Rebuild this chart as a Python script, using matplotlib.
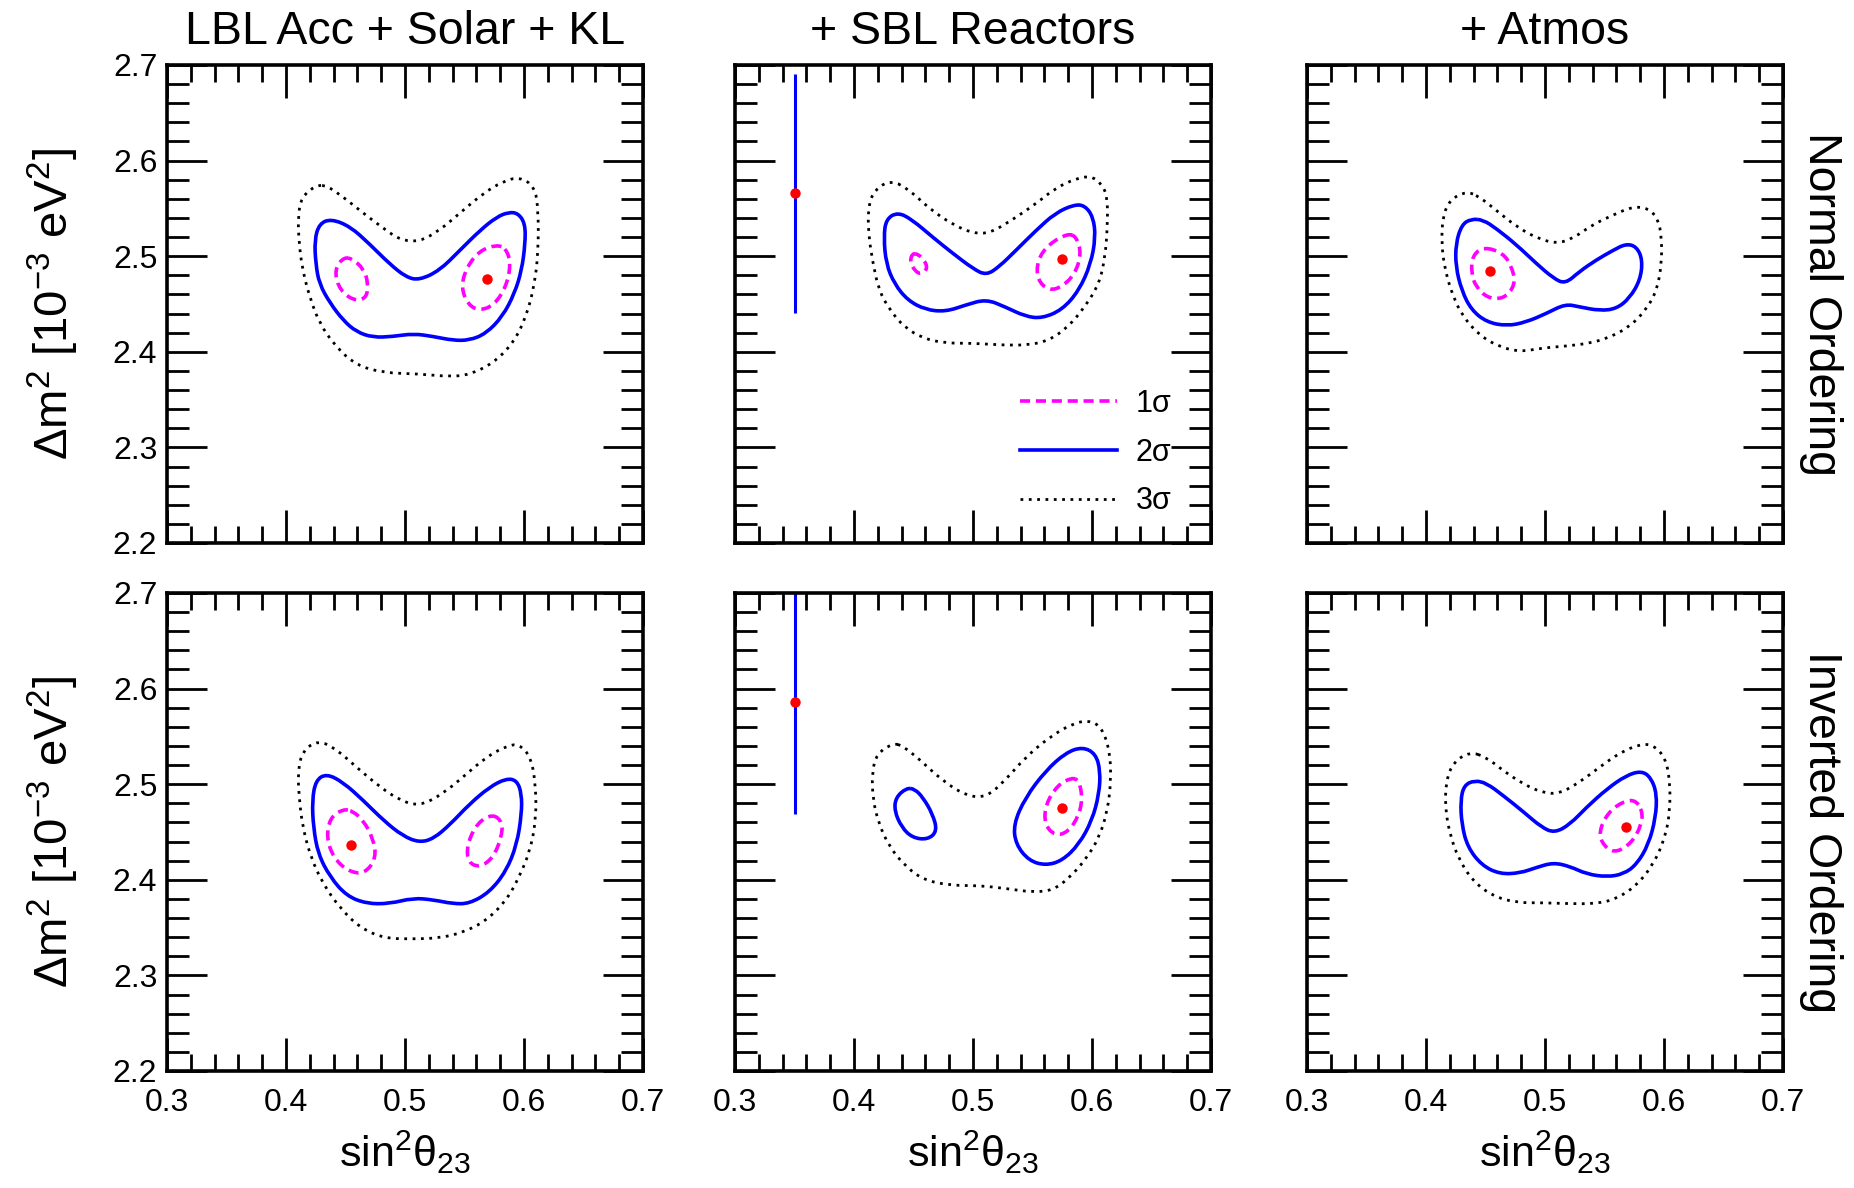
import numpy as np
import matplotlib
matplotlib.use('Agg')
import matplotlib.pyplot as plt
from matplotlib.ticker import MultipleLocator, FormatStrFormatter
from matplotlib.path import Path
from matplotlib.patches import PathPatch

plt.rcParams['font.family'] = ['Liberation Sans', 'DejaVu Sans']
plt.rcParams['mathtext.fontset'] = 'custom'
plt.rcParams['mathtext.rm'] = 'Liberation Sans'
plt.rcParams['mathtext.it'] = 'Liberation Sans'
plt.rcParams['mathtext.default'] = 'regular'

col_titles = ['LBL Acc + Solar + KL', '+ SBL Reactors', '+ Atmos']
row_labels = ['Normal Ordering', 'Inverted Ordering']
sigma_labels = ['1σ', '2σ', '3σ']

# contour outlines: (sin^2 theta23, dm^2 [1e-3 eV^2])
# --- normal ordering, LBL Acc + Solar + KL
no_lbl_3s = [(0.425, 2.574), (0.413, 2.562), (0.410, 2.541), (0.411, 2.513), (0.414, 2.485),
             (0.420, 2.457), (0.428, 2.430), (0.442, 2.405), (0.459, 2.386), (0.482, 2.378),
             (0.510, 2.377), (0.538, 2.374), (0.554, 2.376), (0.574, 2.388), (0.591, 2.409),
             (0.602, 2.437), (0.609, 2.471), (0.612, 2.506), (0.612, 2.548), (0.609, 2.573),
             (0.596, 2.583), (0.582, 2.578), (0.566, 2.566), (0.546, 2.545), (0.529, 2.527),
             (0.512, 2.515), (0.496, 2.517), (0.482, 2.529), (0.465, 2.545), (0.448, 2.562),
             (0.434, 2.574)]
no_lbl_2s = [(0.438, 2.539), (0.428, 2.534), (0.424, 2.517), (0.425, 2.492), (0.428, 2.471),
             (0.437, 2.451), (0.448, 2.433), (0.459, 2.421), (0.473, 2.415), (0.490, 2.416),
             (0.507, 2.419), (0.524, 2.416), (0.540, 2.412), (0.554, 2.412), (0.568, 2.419),
             (0.582, 2.437), (0.592, 2.461), (0.598, 2.485), (0.601, 2.513), (0.601, 2.534),
             (0.595, 2.545), (0.587, 2.546), (0.577, 2.541), (0.563, 2.527), (0.546, 2.506),
             (0.529, 2.485), (0.512, 2.475), (0.501, 2.478), (0.487, 2.492), (0.470, 2.513),
             (0.454, 2.531)]
no_lbl_1s_a = [(0.449, 2.499), (0.442, 2.489), (0.442, 2.475), (0.448, 2.461), (0.459, 2.453),
               (0.468, 2.457), (0.469, 2.473), (0.465, 2.487), (0.456, 2.497)]
no_lbl_1s_b = [(0.577, 2.512), (0.563, 2.506), (0.552, 2.489), (0.547, 2.468), (0.553, 2.449),
               (0.563, 2.443), (0.575, 2.449), (0.585, 2.468), (0.589, 2.492), (0.585, 2.508)]

# --- normal ordering, + SBL Reactors
no_sbl_3s = [(0.431, 2.580), (0.417, 2.569), (0.412, 2.552), (0.412, 2.524), (0.416, 2.492),
             (0.421, 2.464), (0.430, 2.444), (0.442, 2.426), (0.458, 2.414), (0.477, 2.409),
             (0.500, 2.409), (0.525, 2.407), (0.547, 2.407), (0.564, 2.412), (0.580, 2.426),
             (0.594, 2.447), (0.606, 2.471), (0.611, 2.499), (0.613, 2.531), (0.613, 2.562),
             (0.608, 2.576), (0.599, 2.584), (0.586, 2.581), (0.569, 2.571), (0.553, 2.555),
             (0.533, 2.538), (0.514, 2.524), (0.500, 2.524), (0.483, 2.533), (0.463, 2.550),
             (0.447, 2.569)]
no_sbl_2s = [(0.437, 2.546), (0.427, 2.539), (0.425, 2.520), (0.427, 2.492), (0.434, 2.471),
             (0.445, 2.454), (0.460, 2.444), (0.477, 2.442), (0.494, 2.449), (0.511, 2.455),
             (0.527, 2.447), (0.544, 2.437), (0.558, 2.435), (0.575, 2.444), (0.589, 2.464),
             (0.599, 2.492), (0.603, 2.520), (0.601, 2.541), (0.594, 2.553), (0.585, 2.554),
             (0.569, 2.545), (0.553, 2.527), (0.536, 2.506), (0.522, 2.489), (0.511, 2.480),
             (0.500, 2.487), (0.483, 2.503), (0.466, 2.520), (0.449, 2.538)]
no_sbl_1s_a = [(0.449, 2.503), (0.447, 2.494), (0.451, 2.485), (0.456, 2.481), (0.462, 2.487),
               (0.459, 2.496), (0.454, 2.502)]
no_sbl_1s_b = [(0.580, 2.524), (0.564, 2.513), (0.554, 2.496), (0.554, 2.475), (0.564, 2.464),
               (0.575, 2.468), (0.586, 2.482), (0.591, 2.503), (0.587, 2.520)]

# --- normal ordering, + Atmos
no_atm_3s = [(0.434, 2.568), (0.420, 2.559), (0.414, 2.541), (0.413, 2.513), (0.416, 2.485),
             (0.423, 2.457), (0.431, 2.437), (0.445, 2.417), (0.462, 2.405), (0.479, 2.400),
             (0.498, 2.404), (0.518, 2.406), (0.538, 2.409), (0.554, 2.415), (0.571, 2.426),
             (0.585, 2.444), (0.594, 2.464), (0.598, 2.492), (0.598, 2.520), (0.595, 2.539),
             (0.587, 2.550), (0.574, 2.552), (0.557, 2.543), (0.540, 2.533), (0.524, 2.519),
             (0.510, 2.513), (0.493, 2.519), (0.476, 2.531), (0.459, 2.548), (0.445, 2.562)]
no_atm_2s = [(0.438, 2.539), (0.430, 2.533), (0.425, 2.513), (0.425, 2.489), (0.430, 2.464),
             (0.438, 2.444), (0.451, 2.431), (0.468, 2.427), (0.484, 2.431), (0.501, 2.440),
             (0.517, 2.450), (0.529, 2.447), (0.546, 2.443), (0.560, 2.445), (0.571, 2.456),
             (0.580, 2.475), (0.582, 2.496), (0.577, 2.510), (0.568, 2.513), (0.557, 2.506),
             (0.543, 2.496), (0.529, 2.484), (0.517, 2.471), (0.507, 2.477), (0.493, 2.492),
             (0.476, 2.512), (0.459, 2.529), (0.448, 2.538)]
no_atm_1s = [(0.449, 2.510), (0.439, 2.501), (0.438, 2.482), (0.442, 2.468), (0.451, 2.457),
             (0.462, 2.455), (0.470, 2.461), (0.475, 2.473), (0.472, 2.489), (0.465, 2.503)]

# --- inverted ordering, LBL Acc + Solar + KL
io_lbl_3s = [(0.427, 2.546), (0.414, 2.535), (0.410, 2.514), (0.411, 2.486), (0.414, 2.455),
             (0.421, 2.423), (0.431, 2.396), (0.445, 2.371), (0.462, 2.350), (0.482, 2.339),
             (0.504, 2.338), (0.529, 2.339), (0.549, 2.345), (0.568, 2.357), (0.585, 2.378),
             (0.596, 2.403), (0.605, 2.430), (0.610, 2.462), (0.610, 2.497), (0.606, 2.528),
             (0.596, 2.542), (0.585, 2.540), (0.568, 2.528), (0.552, 2.511), (0.532, 2.490),
             (0.512, 2.477), (0.496, 2.483), (0.479, 2.497), (0.459, 2.518), (0.442, 2.537)]
io_lbl_2s = [(0.434, 2.511), (0.425, 2.504), (0.422, 2.483), (0.423, 2.455), (0.427, 2.427),
             (0.437, 2.403), (0.451, 2.383), (0.468, 2.375), (0.487, 2.375), (0.507, 2.381),
             (0.524, 2.379), (0.540, 2.375), (0.554, 2.375), (0.571, 2.387), (0.585, 2.409),
             (0.594, 2.437), (0.598, 2.469), (0.598, 2.490), (0.594, 2.504), (0.585, 2.506),
             (0.571, 2.497), (0.554, 2.479), (0.538, 2.458), (0.524, 2.443), (0.512, 2.439),
             (0.498, 2.446), (0.482, 2.462), (0.465, 2.483), (0.448, 2.502)]
io_lbl_1s_a = [(0.448, 2.474), (0.437, 2.465), (0.434, 2.444), (0.440, 2.423), (0.452, 2.409),
               (0.466, 2.406), (0.476, 2.423), (0.473, 2.444), (0.465, 2.462), (0.456, 2.472)]
io_lbl_1s_b = [(0.574, 2.469), (0.561, 2.460), (0.552, 2.437), (0.553, 2.418), (0.563, 2.413),
               (0.574, 2.423), (0.581, 2.444), (0.582, 2.460)]

# --- inverted ordering, + SBL Reactors
io_sbl_3s = [(0.433, 2.543), (0.419, 2.532), (0.415, 2.511), (0.416, 2.483), (0.421, 2.458),
             (0.430, 2.434), (0.444, 2.413), (0.460, 2.399), (0.483, 2.394), (0.505, 2.394),
             (0.527, 2.391), (0.550, 2.387), (0.567, 2.389), (0.580, 2.401), (0.594, 2.420),
             (0.606, 2.444), (0.613, 2.472), (0.616, 2.504), (0.615, 2.535), (0.608, 2.560),
             (0.597, 2.567), (0.583, 2.563), (0.564, 2.549), (0.544, 2.528), (0.527, 2.504),
             (0.511, 2.486), (0.494, 2.488), (0.474, 2.504), (0.455, 2.526), (0.441, 2.540)]
io_sbl_2s_a = [(0.444, 2.496), (0.435, 2.486), (0.434, 2.472), (0.440, 2.455), (0.449, 2.444),
               (0.462, 2.442), (0.470, 2.451), (0.466, 2.469), (0.458, 2.486), (0.451, 2.495)]
io_sbl_2s_b = [(0.592, 2.539), (0.578, 2.533), (0.561, 2.514), (0.544, 2.486), (0.534, 2.458),
               (0.536, 2.437), (0.547, 2.420), (0.561, 2.415), (0.575, 2.420), (0.589, 2.437),
               (0.600, 2.462), (0.606, 2.490), (0.607, 2.514), (0.603, 2.532)]
io_sbl_1s = [(0.583, 2.507), (0.571, 2.499), (0.561, 2.479), (0.560, 2.458), (0.569, 2.446),
             (0.580, 2.450), (0.589, 2.467), (0.592, 2.486), (0.589, 2.504)]

# --- inverted ordering, + Atmos
io_atm_3s = [(0.437, 2.534), (0.423, 2.523), (0.417, 2.504), (0.416, 2.476), (0.420, 2.448),
             (0.427, 2.423), (0.439, 2.399), (0.456, 2.383), (0.476, 2.376), (0.498, 2.376),
             (0.521, 2.375), (0.543, 2.375), (0.560, 2.380), (0.577, 2.394), (0.591, 2.416),
             (0.601, 2.444), (0.605, 2.472), (0.605, 2.504), (0.601, 2.528), (0.591, 2.541),
             (0.580, 2.542), (0.563, 2.533), (0.546, 2.518), (0.529, 2.502), (0.512, 2.490),
             (0.498, 2.491), (0.482, 2.500), (0.465, 2.514), (0.451, 2.528)]
io_atm_2s = [(0.441, 2.504), (0.432, 2.499), (0.429, 2.483), (0.430, 2.458), (0.435, 2.434),
             (0.447, 2.415), (0.462, 2.406), (0.479, 2.407), (0.493, 2.413), (0.507, 2.418),
             (0.521, 2.414), (0.535, 2.406), (0.552, 2.403), (0.566, 2.406), (0.577, 2.416),
             (0.587, 2.437), (0.593, 2.465), (0.594, 2.490), (0.589, 2.507), (0.581, 2.514),
             (0.568, 2.509), (0.552, 2.495), (0.535, 2.476), (0.521, 2.458), (0.508, 2.449),
             (0.497, 2.455), (0.482, 2.471), (0.465, 2.488), (0.451, 2.501)]
io_atm_1s = [(0.575, 2.485), (0.561, 2.479), (0.550, 2.465), (0.545, 2.446), (0.552, 2.432),
             (0.561, 2.429), (0.573, 2.439), (0.581, 2.457), (0.582, 2.472)]

# best fit points per column
no_best_x = [0.569, 0.575, 0.454]
no_best_y = [2.476, 2.497, 2.485]
io_best_x = [0.455, 0.575, 0.568]
io_best_y = [2.436, 2.475, 2.455]

# SBL reactor measurement shown in middle column
sbl_x = [0.35, 0.35]
sbl_y = [2.566, 2.586]
sbl_err = [0.125, 0.117]

# styles
c1, c2, c3 = '#ff00ff', '#0000ff', 'black'
ls1 = (0, (2.8, 1.6))
ls3 = (0, (1.0, 2.0))
lw1, lw2, lw3 = 2.6, 2.6, 2.0


def loop_path(pts):
    # closed quadratic-bezier loop using the read points as control points
    n = len(pts)
    mids = [((pts[i][0] + pts[(i + 1) % n][0]) / 2, (pts[i][1] + pts[(i + 1) % n][1]) / 2)
            for i in range(n)]
    verts = [mids[-1]]
    codes = [Path.MOVETO]
    for i in range(n):
        verts += [pts[i], mids[i]]
        codes += [Path.CURVE3, Path.CURVE3]
    return Path(verts, codes)


def draw_loop(ax, pts, **kw):
    ax.add_patch(PathPatch(loop_path(pts), fill=False, capstyle='butt', **kw))


panels = [
    [([no_lbl_1s_a, no_lbl_1s_b], [no_lbl_2s], [no_lbl_3s]),
     ([no_sbl_1s_a, no_sbl_1s_b], [no_sbl_2s], [no_sbl_3s]),
     ([no_atm_1s], [no_atm_2s], [no_atm_3s])],
    [([io_lbl_1s_a, io_lbl_1s_b], [io_lbl_2s], [io_lbl_3s]),
     ([io_sbl_1s], [io_sbl_2s_a, io_sbl_2s_b], [io_sbl_3s]),
     ([io_atm_1s], [io_atm_2s], [io_atm_3s])],
]
best_x = [no_best_x, io_best_x]
best_y = [no_best_y, io_best_y]

W, H = 1854, 1188
fig = plt.figure(figsize=(W / 100, H / 100), dpi=100)

col_left = [167, 735, 1307]
row_top = [65, 593]
ax_w, ax_h = 476, 478

for r in range(2):
    for c in range(3):
        ax = fig.add_axes([col_left[c] / W, 1 - (row_top[r] + ax_h) / H, ax_w / W, ax_h / H])
        s1, s2, s3 = panels[r][c]
        for pts in s3:
            draw_loop(ax, pts, edgecolor=c3, lw=lw3, ls=ls3)
        for pts in s2:
            draw_loop(ax, pts, edgecolor=c2, lw=lw2)
        for pts in s1:
            draw_loop(ax, pts, edgecolor=c1, lw=lw1, ls=ls1)
        ax.plot(best_x[r][c], best_y[r][c], 'o', color='red', ms=7.5, mew=0, zorder=5)

        if c == 1:
            ax.errorbar(sbl_x[r], sbl_y[r], yerr=sbl_err[r], fmt='none', ecolor=c2,
                        elinewidth=2.2, capsize=0)
            ax.plot(sbl_x[r], sbl_y[r], 'o', color='red', ms=7.5, mew=0, zorder=5)
            if r == 0:
                h1, = ax.plot([], [], color=c1, lw=lw1, ls=ls1)
                h2, = ax.plot([], [], color=c2, lw=lw2)
                h3, = ax.plot([], [], color=c3, lw=lw3, ls=ls3)
                ax.legend([h1, h2, h3], sigma_labels, loc='upper left',
                          bbox_to_anchor=(0.598, 0.323), frameon=False, fontsize=22,
                          handlelength=3.2, handletextpad=0.6, labelspacing=0.62,
                          borderpad=0, borderaxespad=0)

        ax.set_xlim(0.3, 0.7)
        ax.set_ylim(2.2, 2.7)
        ax.xaxis.set_major_locator(MultipleLocator(0.1))
        ax.xaxis.set_minor_locator(MultipleLocator(0.02))
        ax.yaxis.set_major_locator(MultipleLocator(0.1))
        ax.yaxis.set_minor_locator(MultipleLocator(0.02))
        ax.xaxis.set_major_formatter(FormatStrFormatter('%.1f'))
        ax.yaxis.set_major_formatter(FormatStrFormatter('%.1f'))
        ax.tick_params(which='both', direction='in', top=True, right=True, width=2.0,
                       labelsize=23, labelbottom=(r == 1), labelleft=(c == 0))
        ax.tick_params(axis='x', which='major', length=23.5, pad=12)
        ax.tick_params(axis='x', which='minor', length=12)
        ax.tick_params(axis='y', which='major', length=29, pad=7)
        ax.tick_params(axis='y', which='minor', length=15.5)
        for sp in ax.spines.values():
            sp.set_linewidth(2.6)

        if r == 1:
            ax.set_xlabel(r'sin$^{2}$θ$_{23}$', fontsize=31, labelpad=8)

    # row labels
    yc = 1 - (row_top[r] + ax_h / 2) / H
    fig.text(53 / W, yc, r'Δm$^{2}$ [10$^{-3}$ eV$^{2}$]', rotation=90,
             ha='center', va='center', fontsize=34)
    fig.text(1821 / W, yc, row_labels[r], rotation=270, ha='center', va='center',
             fontsize=33.5)

for c in range(3):
    fig.text((col_left[c] + ax_w / 2) / W, 1 - 44 / H, col_titles[c], ha='center',
             va='baseline', fontsize=33.5)

fig.savefig('out.png', dpi=100)
